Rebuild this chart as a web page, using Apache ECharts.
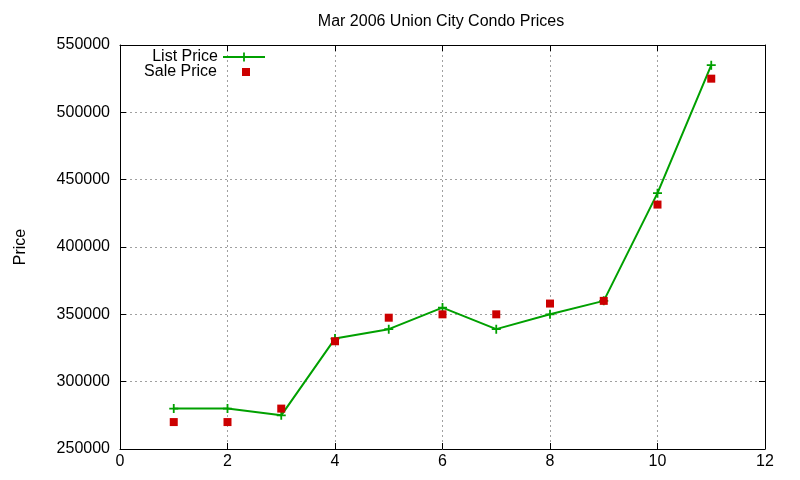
<!DOCTYPE html>
<html>
<head>
<meta charset="utf-8">
<script src="https://cdn.jsdelivr.net/npm/echarts@6/dist/echarts.min.js"></script>
<style>
html,body{margin:0;padding:0;background:#fff;}
#chart{width:800px;height:480px;}
</style>
</head>
<body>
<div id="chart"></div>
<script>
const xValues = [1, 2, 3, 4, 5, 6, 7, 8, 9, 10, 11];
const listPrice = [280000, 280000, 275000, 332000, 339000, 355000, 339000, 350000, 360000, 440000, 535000];
const salePrice = [270000, 270000, 280000, 330000, 347500, 350000, 350000, 358000, 360000, 431500, 525000];
const seriesNames = ['List Price', 'Sale Price'];
const titleText = 'Mar 2006 Union City Condo Prices';
const yName = 'Price';

const font = 'Liberation Sans, Arial, sans-serif';
const fs = 16;
const plusPath = 'path://M4,0h2v4h4v2h-4v4h-2v-4h-4v-2h4z';

const chart = echarts.init(document.getElementById('chart'), null, {renderer: 'canvas'});
const axisBase = {
  axisLine: {show: true, onZero: false, lineStyle: {color: '#000', width: 1}},
  axisTick: {show: true, inside: true, length: 6, lineStyle: {color: '#000'}}
};
chart.setOption({
  animation: false,
  backgroundColor: '#fff',
  textStyle: {fontFamily: font, color: '#000'},
  title: {
    text: titleText,
    left: 436, top: 9, textAlign: 'center',
    textStyle: {fontFamily: font, fontSize: fs, fontWeight: 'normal', color: '#000'}
  },
  grid: {left: 120, right: 35, top: 45, bottom: 31, containLabel: false},
  legend: [
    {
      data: [seriesNames[0]], orient: 'vertical', right: 529, top: 44, align: 'right',
      itemWidth: 42, itemHeight: 11, itemGap: 0,
      textStyle: {fontFamily: font, fontSize: fs, color: '#000'}
    },
    {
      data: [{name: seriesNames[1], icon: 'rect'}], orient: 'vertical', right: 545, top: 59, align: 'right',
      itemWidth: 8, itemHeight: 8, itemGap: 0,
      textStyle: {fontFamily: font, fontSize: fs, color: '#000', padding: [0, 20, 0, 0]}
    }
  ],
  xAxis: [
    Object.assign({
      type: 'value', min: 0, max: 12, interval: 2, position: 'bottom',
      axisLabel: {margin: 5, fontSize: fs, color: '#000', fontFamily: font},
      splitLine: {show: true, lineStyle: {color: '#a0a0a0', type: [2, 3], width: 1}}
    }, axisBase),
    Object.assign({
      type: 'value', min: 0, max: 12, interval: 2, position: 'top',
      axisLabel: {show: false}, splitLine: {show: false}
    }, axisBase)
  ],
  yAxis: [
    Object.assign({
      type: 'value', min: 250000, max: 550000, interval: 50000, position: 'left',
      name: yName, nameLocation: 'middle', nameGap: 91, nameRotate: 90,
      nameTextStyle: {fontFamily: font, fontSize: fs, color: '#000'},
      axisLabel: {margin: 10, fontSize: fs, color: '#000', fontFamily: font, formatter: v => String(v)},
      splitLine: {show: true, lineStyle: {color: '#a0a0a0', type: [2, 3], width: 1}}
    }, axisBase),
    Object.assign({
      type: 'value', min: 250000, max: 550000, interval: 50000, position: 'right',
      axisLabel: {show: false}, splitLine: {show: false}
    }, axisBase)
  ],
  series: [
    {
      name: seriesNames[0], type: 'line',
      data: xValues.map((x, i) => [x, listPrice[i]]),
      symbol: plusPath, symbolSize: 9, showAllSymbol: true,
      lineStyle: {color: '#00a000', width: 2},
      itemStyle: {color: '#00a000'},
      z: 3
    },
    {
      name: seriesNames[1], type: 'scatter',
      data: xValues.map((x, i) => [x, salePrice[i]]),
      symbol: 'rect', symbolSize: 8,
      itemStyle: {color: '#cc0000', opacity: 1},
      z: 4
    }
  ]
});
</script>
</body>
</html>
